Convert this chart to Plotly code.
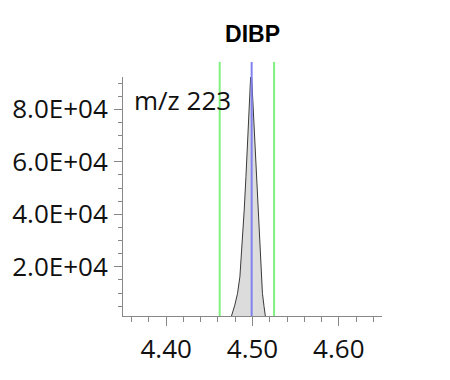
import plotly.graph_objects as go

# Chromatogram peak (retention time in min, intensity)
rt = [4.35, 4.4745, 4.4795, 4.4827, 4.4854, 4.4881, 4.4904, 4.4924, 4.4943, 4.4959, 4.4971, 4.4979,
      4.4990, 4.5010, 4.5029, 4.5049, 4.5068, 4.5088, 4.5107, 4.5115, 4.5134, 4.5154, 4.65]
intensity = [0, 0, 5400, 9900, 16200, 29000, 41600, 54300, 67000, 79700, 91200, 92800,
             92400, 79700, 67000, 54300, 41600, 29000, 16200, 9900, 4800, 0, 0]

window_lines = [4.462, 4.525]
expected_rt = 4.499
y_tickvals = [20000, 40000, 60000, 80000]
y_ticktext = ["2.0E+04", "4.0E+04", "6.0E+04", "8.0E+04"]
x_tickvals = [4.40, 4.50, 4.60]
x_ticktext = ["4.40", "4.50", "4.60"]
title = "DIBP"
label = "m/z 223"

fig = go.Figure()
fig.add_trace(go.Scatter(x=rt, y=intensity, mode="lines", fill="tozeroy",
                         line=dict(color="#3a3a3a", width=1), fillcolor="#dcdcdc",
                         showlegend=False, hoverinfo="skip"))

for xv in window_lines:
    fig.add_shape(type="line", x0=xv, x1=xv, xref="x", yref="paper", y0=0, y1=1.063,
                  line=dict(color="#80f080", width=2))
fig.add_shape(type="line", x0=expected_rt, x1=expected_rt, xref="x", yref="paper", y0=0, y1=1.063,
              line=dict(color="#8080f0", width=2))

fig.add_annotation(text=label, xref="paper", yref="paper", x=0.033, y=0.905,
                   xanchor="left", yanchor="middle", showarrow=False,
                   font=dict(family="Open Sans", size=26, color="#111"))

fig.update_layout(
    width=450, height=380,
    margin=dict(l=123, r=68, t=77, b=64, autoexpand=False),
    paper_bgcolor="white", plot_bgcolor="white",
    title=dict(text="<b>" + title + "</b>", x=(123 + 259 / 2) / 450, xanchor="center",
               y=1 - 34 / 380, yanchor="middle", automargin=False,
               font=dict(family="Liberation Sans", size=23, color="black")),
    font=dict(family="Open Sans", size=26, color="#111"),
)
fig.update_xaxes(range=[4.35, 4.65], tickmode="array", tickvals=x_tickvals, ticktext=x_ticktext,
                 automargin=False,
                 showgrid=False, zeroline=False, showline=True, linecolor="#888", linewidth=1,
                 ticks="outside", ticklen=9, tickcolor="#888", ticklabelstandoff=1,
                 minor=dict(tickmode="linear", tick0=4.36, dtick=0.02, ticks="outside",
                            ticklen=5, tickcolor="#888", showgrid=False))
fig.update_yaxes(range=[1250, 92300], tickmode="array", tickvals=y_tickvals, ticktext=y_ticktext,
                 automargin=False,
                 showgrid=False, zeroline=False, showline=True, linecolor="#888", linewidth=1,
                 ticks="outside", ticklen=8, tickcolor="#888", ticklabelstandoff=1,
                 minor=dict(tickmode="linear", tick0=0, dtick=5000, ticks="outside",
                            ticklen=4, tickcolor="#888", showgrid=False))

fig.write_html("out.html", config={"displayModeBar": False},
               post_script="document.body.style.margin='0';")
